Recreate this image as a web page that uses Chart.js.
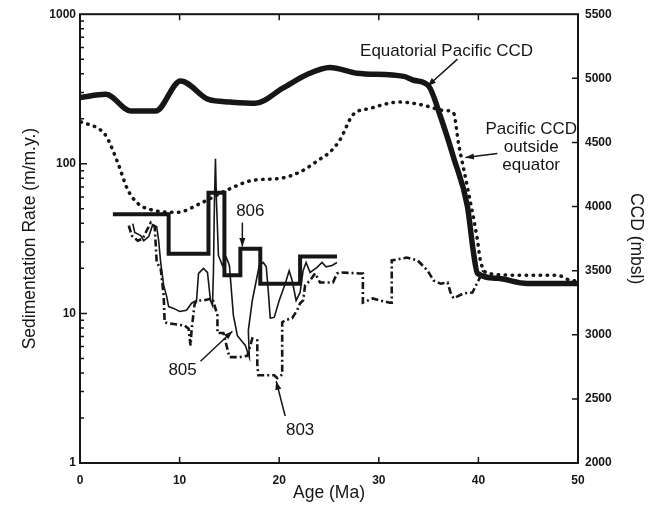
<!DOCTYPE html>
<html>
<head>
<meta charset="utf-8">
<title>Sedimentation rate and CCD</title>
<script src="https://cdn.jsdelivr.net/npm/chart.js@4.4.1/dist/chart.umd.min.js"></script>
<style>
  body { margin: 0; background: #fff; }
  #chart { display: block; }
</style>
</head>
<body>
<canvas id="chart" width="659" height="510"></canvas>
<script>
// ages in Ma, CCD in mbsl, sedimentation rates in m/m.y.
const eqAge = [0, 2.6, 5.1, 7.6, 10.1, 12.9, 15.1, 17.6, 20.4, 22.8, 25.1, 27.8, 32.5, 33.5, 35.0, 36.2, 37.5, 38.9, 39.5, 39.9, 41.9, 44.9, 50];
const eqCcd = [4850, 4875, 4745, 4745, 4980, 4835, 4815, 4805, 4925, 5030, 5085, 5040, 5015, 4985, 4940, 4700, 4385, 4000, 3645, 3480, 3440, 3400, 3400];

const outAge = [0.1, 2.1, 2.7, 3.8, 4.8, 5.8, 7.4, 9.8, 12.1, 14.8, 17.4, 20.1, 22.1, 24.1, 25.1, 26.1, 27.4, 29.1, 32.1, 34.5, 36.5, 37.5, 38.0, 38.9, 39.9, 40.2, 40.9, 43.9, 47.9, 49.2, 50];
const outCcd = [4660, 4595, 4540, 4340, 4130, 4025, 3970, 3955, 4025, 4130, 4205, 4220, 4270, 4370, 4425, 4520, 4715, 4765, 4815, 4790, 4750, 4730, 4495, 4150, 3740, 3580, 3480, 3465, 3465, 3425, 3420];

const age806 = [3.3, 8.9, 8.9, 12.9, 12.9, 14.5, 14.5, 16.1, 16.1, 18.1, 18.1, 22.1, 22.1, 25.8];
const rate806 = [46, 46, 25, 25, 64, 64, 18, 18, 27, 27, 15.8, 15.8, 24, 24];

const age805 = [5.3, 5.5, 6.1, 6.4, 6.9, 7.3, 7.7, 7.9, 8.1, 8.4, 8.7, 8.9, 9.4, 10.0, 10.7, 11.2, 11.7, 11.9, 12.4, 12.8, 13.1, 13.3, 13.4, 13.5, 13.6, 13.7, 13.9, 14.3, 14.7, 15.0, 15.4, 15.8, 16.6, 17.0, 16.9, 17.3, 18.0, 18.4, 18.7, 18.9, 19.1, 19.5, 20.0, 20.6, 21.0, 21.3, 21.7, 22.1, 22.4, 22.7, 23.1, 23.8, 24.3, 24.7, 25.3, 25.8];
const rate805 = [39.8, 34.7, 33.1, 30.6, 32.6, 39.2, 38.0, 30.6, 21.9, 15.4, 13.0, 11.1, 10.8, 10.3, 10.5, 11.7, 12.2, 18.5, 20.0, 18.8, 12.2, 11.3, 19.3, 56.7, 108, 56.7, 24.4, 20.9, 23.6, 20.9, 9.7, 7.1, 6.1, 5.1, 7.7, 12.2, 20.9, 21.9, 20.5, 14.2, 9.3, 9.4, 12.2, 15.8, 19.3, 16.6, 12.2, 13.8, 19.3, 21.9, 18.8, 20.3, 21.9, 20.5, 20.9, 21.9];

const age803 = [4.9, 5.2, 5.8, 6.3, 6.7, 7.1, 7.5, 7.7, 8.1, 8.4, 8.5, 8.8, 9.9, 10.5, 10.9, 11.1, 11.2, 11.5, 11.7, 12.4, 13.3, 13.8, 13.8, 14.4, 15.0, 16.0, 16.8, 17.3, 17.8, 17.8, 17.9, 18.8, 19.5, 19.8, 20.3, 20.3, 20.6, 21.3, 21.8, 22.1, 22.4, 22.6, 23.1, 23.6, 24.1, 25.4, 25.8, 26.1, 28.1, 28.4, 28.4, 29.4, 30.1, 31.1, 31.3, 31.3, 32.8, 33.9, 34.9, 35.5, 36.2, 36.9, 37.2, 37.5, 38.5, 39.4, 40.0, 40.5];
const rate803 = [38.6, 33.1, 30.6, 31.6, 35.8, 40.4, 38.0, 21.9, 20.0, 13.2, 8.7, 8.6, 8.4, 8.3, 7.9, 6.1, 7.7, 11.5, 12.2, 12.2, 12.6, 9.7, 7.4, 7.4, 5.1, 5.1, 5.2, 6.8, 6.6, 4.6, 3.86, 3.86, 3.86, 3.7, 3.9, 8.7, 9.0, 9.3, 10.5, 11.7, 12.2, 15.4, 16.6, 18.5, 16.1, 16.1, 18.5, 18.8, 18.5, 18.5, 11.8, 12.6, 12.2, 11.8, 11.8, 22.6, 23.6, 22.6, 19.3, 16.6, 15.8, 16.1, 13.8, 12.6, 13.6, 13.8, 16.6, 19.3];

const xTicks = [0, 10, 20, 30, 40, 50];
const rateTicks = [1, 10, 100, 1000];
const ccdTicks = [2000, 2500, 3000, 3500, 4000, 4500, 5000, 5500];

// labels placed in age / sedimentation rate units
const notes = [
    { lines: ['Equatorial Pacific CCD'], age: 36.8, rate: 566 },
    { lines: ['Pacific CCD', 'outside', 'equator'], age: 45.3, rate: 171, step: 18 },
    { lines: ['806'], age: 17.1, rate: 47.9 },
    { lines: ['805'], age: 10.3, rate: 4.17 },
    { lines: ['803'], age: 22.1, rate: 1.66 }
];
const arrows = [
    { from: [37.9, 501], to: [34.9, 331] },
    { from: [41.9, 117], to: [38.7, 110] },
    { from: [16.3, 40.4], to: [16.3, 28.0] },
    { from: [12.1, 4.79], to: [15.3, 7.59] },
    { from: [20.6, 2.06], to: [19.7, 3.52] }
];

const INK = '#161616';
const tickFont = { family: 'Liberation Sans', size: 12, weight: 'bold' };
const titleFont = { family: 'Liberation Sans', size: 17.5 };

function toPoints(xs, ys) {
    return xs.map(function (x, i) { return { x: x, y: ys[i] }; });
}

const frame = {
    id: 'frame',
    afterDatasetsDraw(chart) {
        const ctx = chart.ctx;
        const a = chart.chartArea;
        const xs = chart.scales.x, ys = chart.scales.y, y2 = chart.scales.y2;
        ctx.save();
        ctx.strokeStyle = INK;
        ctx.lineWidth = 2;
        ctx.strokeRect(a.left, a.top, a.right - a.left, a.bottom - a.top);

        // inward tick marks
        ctx.lineWidth = 1.5;
        ctx.beginPath();
        xTicks.slice(1, -1).forEach(function (v) {
            const px = xs.getPixelForValue(v);
            ctx.moveTo(px, a.bottom); ctx.lineTo(px, a.bottom - 6);
            ctx.moveTo(px, a.top); ctx.lineTo(px, a.top + 6);
        });
        for (let d = 1; d < 1000; d *= 10) {
            for (let m = 1; m < 10; m++) {
                if (d * m === 1) continue;
                const py = ys.getPixelForValue(d * m);
                ctx.moveTo(a.left, py); ctx.lineTo(a.left + (m === 1 ? 7 : 4), py);
            }
        }
        ccdTicks.slice(1, -1).forEach(function (v) {
            const py = y2.getPixelForValue(v);
            ctx.moveTo(a.right, py); ctx.lineTo(a.right - 6, py);
        });
        ctx.stroke();

        // annotations
        ctx.fillStyle = INK;
        ctx.font = '17px "Liberation Sans"';
        ctx.textAlign = 'center';
        ctx.textBaseline = 'middle';
        notes.forEach(function (n) {
            const px = xs.getPixelForValue(n.age);
            const py = ys.getPixelForValue(n.rate);
            n.lines.forEach(function (t, i) { ctx.fillText(t, px, py + i * (n.step || 0)); });
        });
        ctx.lineWidth = 1.5;
        arrows.forEach(function (ar) {
            const x1 = xs.getPixelForValue(ar.from[0]), y1 = ys.getPixelForValue(ar.from[1]);
            const x2 = xs.getPixelForValue(ar.to[0]), y2p = ys.getPixelForValue(ar.to[1]);
            const ang = Math.atan2(y2p - y1, x2 - x1);
            ctx.beginPath();
            ctx.moveTo(x1, y1); ctx.lineTo(x2, y2p);
            ctx.stroke();
            ctx.beginPath();
            ctx.moveTo(x2, y2p);
            ctx.lineTo(x2 - 9 * Math.cos(ang - 0.35), y2p - 9 * Math.sin(ang - 0.35));
            ctx.lineTo(x2 - 9 * Math.cos(ang + 0.35), y2p - 9 * Math.sin(ang + 0.35));
            ctx.closePath();
            ctx.fill();
        });
        ctx.restore();
    }
};

const ctx = document.getElementById('chart').getContext('2d');
const chart = new Chart(ctx, {
    type: 'line',
    data: {
        datasets: [
            { data: toPoints(eqAge, eqCcd), yAxisID: 'y2', borderColor: INK, borderWidth: 5.5, cubicInterpolationMode: 'monotone', borderJoinStyle: 'round' },
            { data: toPoints(outAge, outCcd), yAxisID: 'y2', borderColor: INK, borderWidth: 3.5, borderDash: [0.5, 6.5], borderCapStyle: 'round', cubicInterpolationMode: 'monotone' },
            { data: toPoints(age806, rate806), yAxisID: 'y', borderColor: INK, borderWidth: 4 },
            { data: toPoints(age805, rate805), yAxisID: 'y', borderColor: INK, borderWidth: 1.6 },
            { data: toPoints(age803, rate803), yAxisID: 'y', borderColor: INK, borderWidth: 2.6, borderDash: [7, 3, 2, 3] }
        ]
    },
    options: {
        responsive: false,
        animation: false,
        events: [],
        elements: { point: { radius: 0 } },
        layout: { padding: { top: 14, left: 0, right: 0, bottom: 0 } },
        plugins: { legend: { display: false }, tooltip: { enabled: false } },
        scales: {
            x: {
                type: 'linear', min: 0, max: 50,
                grid: { display: false, drawTicks: false }, border: { display: false },
                afterBuildTicks: function (s) { s.ticks = xTicks.map(function (v) { return { value: v }; }); },
                afterFit: function (s) { s.height = 47; },
                ticks: { font: tickFont, color: INK, padding: 10, maxRotation: 0, callback: function (v) { return String(v); } },
                title: { display: true, text: 'Age (Ma)', font: titleFont, color: INK, padding: { top: 0, bottom: 6 } }
            },
            y: {
                type: 'logarithmic', position: 'left', min: 1, max: 1000,
                grid: { display: false, drawTicks: false }, border: { display: false },
                afterBuildTicks: function (s) { s.ticks = rateTicks.map(function (v) { return { value: v }; }); },
                afterFit: function (s) { s.width = 80; },
                ticks: { font: tickFont, color: INK, padding: 4, callback: function (v) { return String(v); } },
                title: { display: true, text: 'Sedimentation Rate (m/m.y.)', font: titleFont, color: INK, padding: { top: 20, bottom: 0 } }
            },
            y2: {
                type: 'linear', position: 'right', min: 2000, max: 5500,
                grid: { display: false, drawTicks: false }, border: { display: false },
                afterBuildTicks: function (s) { s.ticks = ccdTicks.map(function (v) { return { value: v }; }); },
                afterFit: function (s) { s.width = 81; },
                ticks: { font: tickFont, color: INK, padding: 7, callback: function (v) { return String(v); } },
                title: { display: true, text: 'CCD (mbsl)', font: titleFont, color: INK, padding: { top: 13, bottom: 0 } }
            }
        }
    },
    plugins: [frame]
});
</script>
</body>
</html>
